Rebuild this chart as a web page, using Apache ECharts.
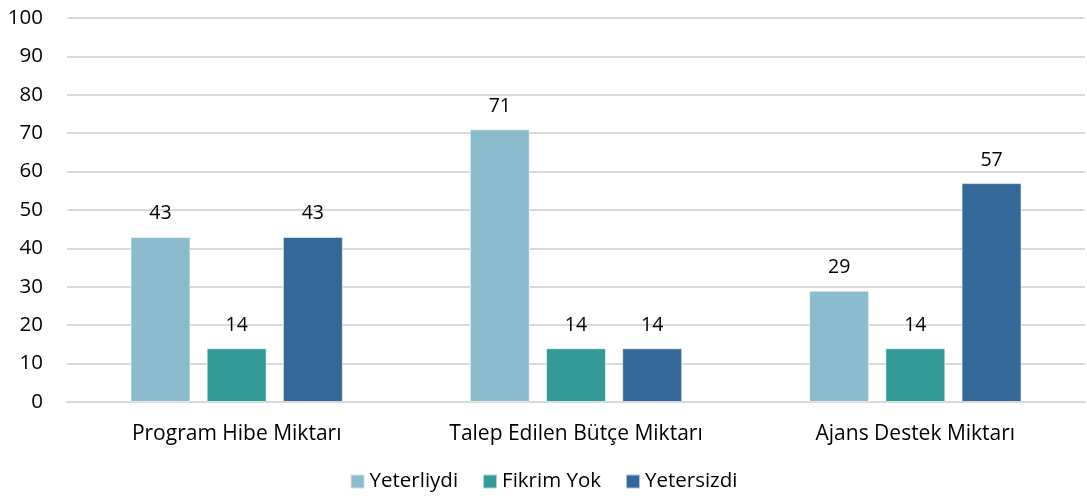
<!DOCTYPE html>
<html>
<head>
<meta charset="utf-8">
<script src="https://cdn.jsdelivr.net/npm/echarts@6/dist/echarts.min.js"></script>
<style>
  html, body { margin: 0; padding: 0; background: #fff; }
  #chart { width: 1087px; height: 498px; }
</style>
</head>
<body>
<div id="chart"></div>
<script>
const categories = ['Program Hibe Miktarı', 'Talep Edilen Bütçe Miktarı', 'Ajans Destek Miktarı'];
const seriesNames = ['Yeterliydi', 'Fikrim Yok', 'Yetersizdi'];
const yeterliydi = [43, 71, 29];
const fikrimYok = [14, 14, 14];
const yetersizdi = [43, 14, 57];
const colors = ['#8BBCCD', '#339A98', '#336898'];

const chart = echarts.init(document.getElementById('chart'));
const font = "'Open Sans', 'Liberation Sans', sans-serif";

function bar(name, data, color) {
  return {
    name: name,
    type: 'bar',
    data: data,
    barWidth: 60,
    barGap: '27%',
    itemStyle: { color: color, borderColor: 'rgba(255,255,255,0.6)', borderWidth: 1 },
    label: {
      show: true,
      position: 'top',
      distance: 13,
      color: '#000',
      fontSize: 19.5,
      fontFamily: font
    }
  };
}

chart.setOption({
  animation: false,
  color: colors,
  grid: { left: 67, right: 2, top: 18, bottom: 96 },
  legend: {
    bottom: 1,
    itemWidth: 14,
    itemHeight: 14,
    itemGap: 24,
    itemTextGap: 6,
    icon: 'rect',
    textStyle: { fontSize: 20.5, color: '#000', fontFamily: font },
    data: seriesNames
  },
  xAxis: {
    type: 'category',
    data: categories,
    axisLine: { lineStyle: { color: '#D9D9D9', width: 2 } },
    axisTick: { show: false },
    axisLabel: { color: '#000', fontSize: 21, fontFamily: font, margin: 22 }
  },
  yAxis: {
    type: 'value',
    min: 0,
    max: 100,
    interval: 10,
    axisLine: { show: false },
    axisTick: { show: false },
    splitLine: { lineStyle: { color: '#D9D9D9', width: 2 } },
    axisLabel: { color: '#000', fontSize: 20.5, fontFamily: font, margin: 24 }
  },
  series: [
    bar(seriesNames[0], yeterliydi, colors[0]),
    bar(seriesNames[1], fikrimYok, colors[1]),
    bar(seriesNames[2], yetersizdi, colors[2])
  ]
});
</script>
</body>
</html>
